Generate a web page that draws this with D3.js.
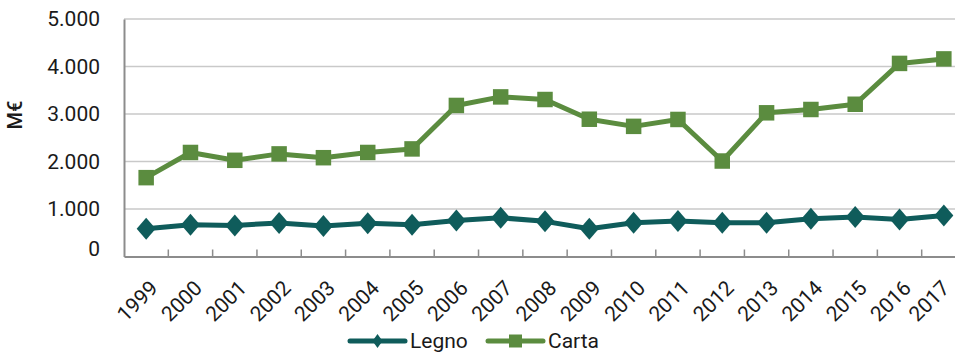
<!DOCTYPE html>
<html>
<head>
<meta charset="utf-8">
<script src="https://cdn.jsdelivr.net/npm/d3@7"></script>
<style>
  html, body { margin: 0; padding: 0; background: #fff; }
  svg { display: block; font-family: Roboto, "Liberation Sans", sans-serif; }
</style>
</head>
<body>
<svg id="chart" width="955" height="354"></svg>
<script>
// Years on the x axis
const years = ["1999","2000","2001","2002","2003","2004","2005","2006","2007","2008",
               "2009","2010","2011","2012","2013","2014","2015","2016","2017"];
// Values in millions of euro
const legno = [585, 670, 655, 705, 640, 700, 670, 760, 815, 740,
               585, 710, 745, 710, 710, 795, 830, 780, 865];
const carta = [1660, 2190, 2025, 2160, 2080, 2190, 2265, 3180, 3360, 3305,
               2890, 2740, 2885, 2010, 3025, 3095, 3205, 4065, 4160];
const yTicks = [0, 1000, 2000, 3000, 4000, 5000];
const seriesNames = ["Legno", "Carta"];
const seriesColors = ["#0f5c5b", "#5b8c3f"];

const svg = d3.select("#chart");
const plotLeft = 124, plotRight = 966, plotTop = 19, plotBottom = 256.5;

const x = d3.scaleBand().domain(years).range([plotLeft, plotRight]).padding(0);
const y = d3.scaleLinear().domain([0, 5000]).range([plotBottom, plotTop]);

const fmt = v => v === 0 ? "0" : d3.format(",")(v).replace(/,/g, ".");

// Horizontal gridlines
svg.append("g")
  .selectAll("line")
  .data(yTicks.filter(d => d > 0))
  .join("line")
  .attr("x1", plotLeft).attr("x2", plotRight)
  .attr("y1", d => y(d)).attr("y2", d => y(d))
  .attr("stroke", "#c9c9c9").attr("stroke-width", 1.5);

// Y axis
const yAxis = svg.append("g")
  .attr("transform", `translate(${plotLeft},0)`)
  .call(d3.axisLeft(y).tickValues(yTicks).tickFormat(fmt).tickSize(0).tickPadding(24));
yAxis.select(".domain").attr("stroke", "#8c8c8c").attr("stroke-width", 2);
yAxis.selectAll("text").attr("font-size", 21).attr("fill", "#1a1a1a")
  .attr("font-family", "Roboto, sans-serif");
// Lift the zero label clear of the x axis line
yAxis.selectAll(".tick").filter(d => d === 0).select("text").attr("dy", "-0.05em");

// X axis with inward category ticks
const xAxis = svg.append("g")
  .attr("transform", `translate(0,${plotBottom})`)
  .call(d3.axisBottom(x).tickSize(0).tickFormat(""));
xAxis.select(".domain").attr("stroke", "#8c8c8c").attr("stroke-width", 2);
svg.append("g")
  .selectAll("line")
  .data(years.slice(1))
  .join("line")
  .attr("x1", d => x(d)).attr("x2", d => x(d))
  .attr("y1", plotBottom).attr("y2", plotBottom - 7)
  .attr("stroke", "#8c8c8c").attr("stroke-width", 1.5);

// Rotated year labels (kept inside the right edge)
svg.append("g")
  .selectAll("text")
  .data(years)
  .join("text")
  .attr("transform", d => {
    const ax = Math.min(x(d) + x.bandwidth() / 2 + 8, 946);
    return `translate(${ax},${plotBottom + 28}) rotate(-45)`;
  })
  .attr("text-anchor", "end")
  .attr("dominant-baseline", "central")
  .attr("font-size", 21)
  .attr("fill", "#1a1a1a")
  .text(d => d);

// Y axis title
svg.append("text")
  .attr("transform", `translate(15,115) rotate(-90)`)
  .attr("text-anchor", "middle")
  .attr("dominant-baseline", "central")
  .attr("font-size", 20)
  .attr("font-weight", 500)
  .attr("fill", "#1a1a1a")
  .text("M€");

const cx = d => x(d) + x.bandwidth() / 2;
const line = d3.line().x(d => cx(d.year)).y(d => y(d.value));
const sq = d3.symbol().type(d3.symbolSquare).size(240);
// Diamond slightly taller than wide
const diamond = (hw, hh) => `M0,${-hh}L${hw},0L0,${hh}L${-hw},0Z`;

function drawSeries(values, color, shape) {
  const data = years.map((yr, i) => ({ year: yr, value: values[i] }));
  const g = svg.append("g");
  g.append("path").datum(data)
    .attr("d", line)
    .attr("fill", "none")
    .attr("stroke", color)
    .attr("stroke-width", 5)
    .attr("stroke-linejoin", "round");
  g.selectAll("path.m").data(data).join("path")
    .attr("class", "m")
    .attr("transform", d => `translate(${cx(d.year)},${y(d.value)})`)
    .attr("d", shape)
    .attr("fill", color);
}

drawSeries(carta, seriesColors[1], sq);
drawSeries(legno, seriesColors[0], diamond(9.5, 11));

// Legend
const legendItems = [
  { name: seriesNames[0], color: seriesColors[0], shape: diamond(5, 7), x0: 350 },
  { name: seriesNames[1], color: seriesColors[1], shape: d3.symbol().type(d3.symbolSquare).size(169)(), x0: 488 }
];
const ly = 341;
const lg = svg.append("g");
legendItems.forEach(it => {
  lg.append("line")
    .attr("x1", it.x0).attr("x2", it.x0 + 55)
    .attr("y1", ly).attr("y2", ly)
    .attr("stroke", it.color).attr("stroke-width", 5).attr("stroke-linecap", "round");
  lg.append("path")
    .attr("transform", `translate(${it.x0 + 27.5},${ly})`)
    .attr("d", it.shape).attr("fill", it.color);
  lg.append("text")
    .attr("x", it.x0 + 60).attr("y", ly)
    .attr("dominant-baseline", "central")
    .attr("font-size", 21).attr("fill", "#1a1a1a")
    .text(it.name);
});
</script>
</body>
</html>
